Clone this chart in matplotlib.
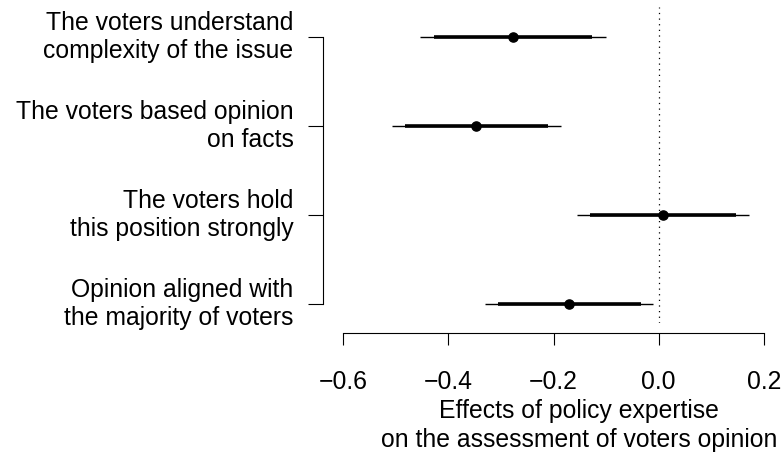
"""Coefficient plot: effects of policy expertise on the assessment of voters opinion."""

import matplotlib
matplotlib.use("Agg")
import matplotlib.pyplot as plt

plt.rcParams["font.family"] = ["Liberation Sans", "DejaVu Sans"]

# Items, listed top to bottom
labels = [
    "The voters understand\ncomplexity of the issue",
    "The voters based opinion\non facts",
    "The voters hold\nthis position strongly",
    "Opinion aligned with\nthe majority of voters",
]
estimate = [-0.278, -0.347, 0.008, -0.170]
lo95 = [-0.454, -0.508, -0.156, -0.330]
hi95 = [-0.101, -0.186, 0.172, -0.010]
lo90 = [-0.427, -0.482, -0.131, -0.305]
hi90 = [-0.127, -0.211, 0.147, -0.034]
xticks = [-0.6, -0.4, -0.2, 0.0, 0.2]

FS = 17.8


def main() -> None:
    W, H = 783, 453
    fig = plt.figure(figsize=(W / 100, H / 100), dpi=100)
    # plot region in pixels (left, top, right, bottom)
    L, T, R, B = 323, 7, 783, 323
    ax = fig.add_axes([L / W, 1 - B / H, (R - L) / W, (B - T) / H])

    n = len(labels)
    ypos = list(range(n, 0, -1))  # 4 at top, 1 at bottom

    ax.axvline(0, color="black", lw=0.9, ls=(0, (1, 3.5)), zorder=1)
    ax.hlines(ypos, lo95, hi95, color="black", lw=1.0, zorder=2)
    ax.hlines(ypos, lo90, hi90, color="black", lw=2.6, zorder=3)
    ax.plot(estimate, ypos, "o", color="black", ms=6.6, zorder=4)

    ax.set_xlim(-0.6385, 0.2364)
    ax.set_ylim(0.783, 4.334)

    for s in ["top", "right"]:
        ax.spines[s].set_visible(False)
    ax.spines["left"].set_bounds(1, n)
    ax.spines["bottom"].set_bounds(-0.6, 0.2)
    ax.spines["bottom"].set_position(("outward", 7.2))
    for s in ["left", "bottom"]:
        ax.spines[s].set_linewidth(0.8)

    ax.set_xticks(xticks)
    ax.set_xticklabels([f"{v:.1f}".replace("-", "\u2212") for v in xticks])
    ax.set_yticks(ypos)
    ax.set_yticklabels(labels)
    for t in ax.get_yticklabels():
        t.set_va("center")
    ax.tick_params(axis="y", length=10.8, width=0.8, pad=10.5, labelsize=FS)
    ax.tick_params(axis="x", length=8.8, width=0.8, pad=17.5, labelsize=FS)

    ax.set_xlabel("Effects of policy expertise\non the assessment of voters opinion",
                  fontsize=FS, linespacing=1.28)
    ax.xaxis.set_label_coords((579 - L) / (R - L), -0.241)
    ax.xaxis.label.set_va("top")

    fig.savefig("out.png", dpi=100)


if __name__ == "__main__":
    main()
